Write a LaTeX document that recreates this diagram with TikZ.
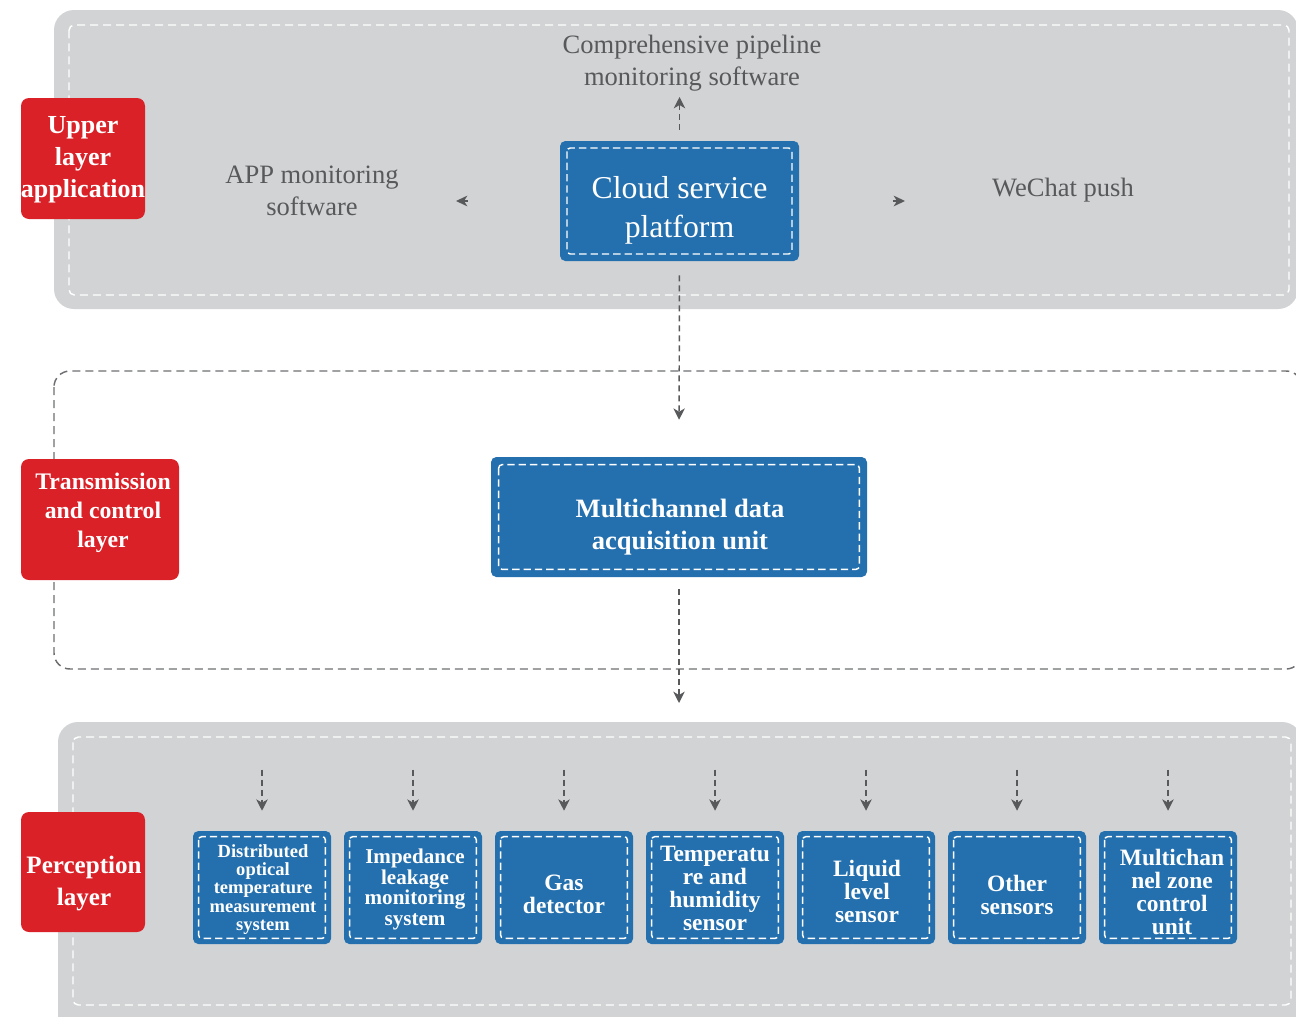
\documentclass[tikz,border=0pt]{standalone}
\usepackage{fontspec}
\setmainfont{Liberation Serif}
\usetikzlibrary{arrows.meta,calc}

\definecolor{panelgray}{HTML}{D1D3D4}
\definecolor{layerred}{HTML}{DA2128}
\definecolor{unitblue}{HTML}{2470AE}
\definecolor{inkgray}{HTML}{58595B}
\definecolor{framegray}{HTML}{6D6E71}

\tikzset{
  panel/.style={fill=panelgray, draw=none, rounded corners=15pt},
  innerframe/.style={draw=white, line width=1.1pt, dash pattern=on 6pt off 3.75pt, rounded corners=4pt},
  midframe/.style={draw=framegray, line width=1.1pt, dash pattern=on 6pt off 3.75pt, rounded corners=12pt},
  layerlabel/.style={fill=layerred, rounded corners=6pt, inner sep=0pt},
  unitbox/.style={fill=unitblue, rounded corners=4pt, inner sep=0pt,
    path picture={\draw[white, line width=1.1pt, dash pattern=on 5.5pt off 3pt, rounded corners=2.5pt]
      ([shift={(#1,-#1)}]path picture bounding box.north west) rectangle
      ([shift={(-#1,#1)}]path picture bounding box.south east);}},
  unitbox/.default=4.5pt,
  sensor/.style={unitbox=4.2pt, minimum width=103.5pt, minimum height=84.75pt},
  boxtext/.style={text=white, align=center, inner sep=0pt},
  labeltext/.style={boxtext, font=\bfseries\fontsize{19.5}{24}\selectfont},
  sensortext/.style={boxtext, font=\bfseries\fontsize{17.6}{17.25}\selectfont},
  appnote/.style={text=inkgray, align=center, inner sep=0pt, font=\fontsize{19.9}{24}\selectfont},
  flow/.style={draw=inkgray, line width=1.1pt, dash pattern=on 4.5pt off 3pt,
    -{Stealth[length=8.5pt,width=8.5pt,inset=2.5pt]}},
  tiponly/.style={draw=inkgray, line width=1.1pt,
    -{Stealth[length=8.5pt,width=8pt,inset=2.5pt]}}
}

\begin{document}
\begin{tikzpicture}[x=0.75pt,y=-0.75pt]
\useasboundingbox (0,0) rectangle (1296,1017);
\clip (0,0) rectangle (1296,1017);

% ---------- layer panels ----------
\fill[panel] (54,10) rectangle (1298,309);
\draw[innerframe] (69,25) rectangle (1289,295);

\draw[midframe] (54,371) rectangle (1302,669);

\fill[panel] (58,722) rectangle (1302,1040);
\draw[innerframe] (73,737) rectangle (1291,1005);

% ---------- layer labels ----------
\node[layerlabel, minimum width=93pt, minimum height=90.75pt] (upper) at (83,158.5) {};
\node[labeltext] (upper-t) at ($(upper)+(0,1)$) {Upper\\layer\\application};

\node[layerlabel, minimum width=118.5pt, minimum height=90.75pt] (trans) at (100,519.5) {};
\node[labeltext, font=\bfseries\fontsize{17.8}{21.75}\selectfont] (trans-t)
  at ($(trans)+(3,-7)$) {Transmission\\and control\\layer};

\node[layerlabel, minimum width=93pt, minimum height=90pt] (perc) at (83,872) {};
\node[labeltext, font=\bfseries\fontsize{18.8}{24}\selectfont] (perc-t)
  at ($(perc)+(1,11)$) {Perception\\layer};

% ---------- upper layer ----------
\node[unitbox=5.25pt, minimum width=179.25pt, minimum height=90pt] (cloud) at (679.5,201) {};
\node[boxtext, font=\fontsize{23.85}{29.25}\selectfont] (cloud-t)
  at ($(cloud)+(0,9)$) {Cloud service\\platform};
\node[appnote] (comp) at (692,63) {Comprehensive pipeline\\monitoring software};
\node[appnote] (app) at (312,191) {APP monitoring\\software};
\node[appnote] (wechat) at (1063,190) {WeChat push};

\coordinate (uptip) at (679.5,97);
\coordinate (lefttip) at (456,201);
\coordinate (righttip) at (905,201);
\draw[flow, shorten <=8.25pt] (cloud.north) -- (uptip);
\draw[tiponly, shorten <=69pt] (cloud.west) -- (lefttip);
\draw[tiponly, shorten <=70.5pt] (cloud.east) -- (righttip);

% ---------- transmission and control layer ----------
\node[unitbox=5.75pt, minimum width=282pt, minimum height=90pt] (mc) at (679,517) {};
\node[boxtext, font=\bfseries\fontsize{19.9}{24}\selectfont] (mc-t)
  at ($(mc)+(1,10)$) {Multichannel data\\acquisition unit};
\draw[flow, shorten <=10.5pt, shorten >=27.75pt] (cloud.south) -- (mc.north);

\coordinate (perctip) at (679,703);
\draw[flow, shorten <=9pt] (mc.south) -- (perctip);

% ---------- perception layer ----------
\foreach \i/\cx in {1/262,2/413,3/564,4/715,5/866,6/1017,7/1168} {
  \node[sensor] (s\i) at (\cx,887.5) {};
  \coordinate (feed\i) at ($(s\i.north)+(0,-61)$);
  \draw[flow, shorten >=15pt] (feed\i) -- (s\i.north);
}

\node[sensortext, font=\bfseries\fontsize{13.9}{13.7}\selectfont] (s1-t) at ($(s1)+(1,2)$)
  {Distributed\\optical\\temperature\\measurement\\system};
\node[sensortext, font=\bfseries\fontsize{15.8}{15.4}\selectfont] (s2-t) at ($(s2)+(2,2)$)
  {Impedance\\leakage\\monitoring\\system};
\node[sensortext] (s3-t) at ($(s3)+(0,7)$) {Gas\\detector};
\node[sensortext] (s4-t) at ($(s4)+(0,1)$) {Temperatu\\re and\\humidity\\sensor};
\node[sensortext] (s5-t) at ($(s5)+(1,4)$) {Liquid\\level\\sensor};
\node[sensortext] (s6-t) at ($(s6)+(0,7)$) {Other\\sensors};
\node[sensortext] (s7-t) at ($(s7)+(4,4)$) {Multichan\\nel zone\\control\\unit};
\end{tikzpicture}
\end{document}
